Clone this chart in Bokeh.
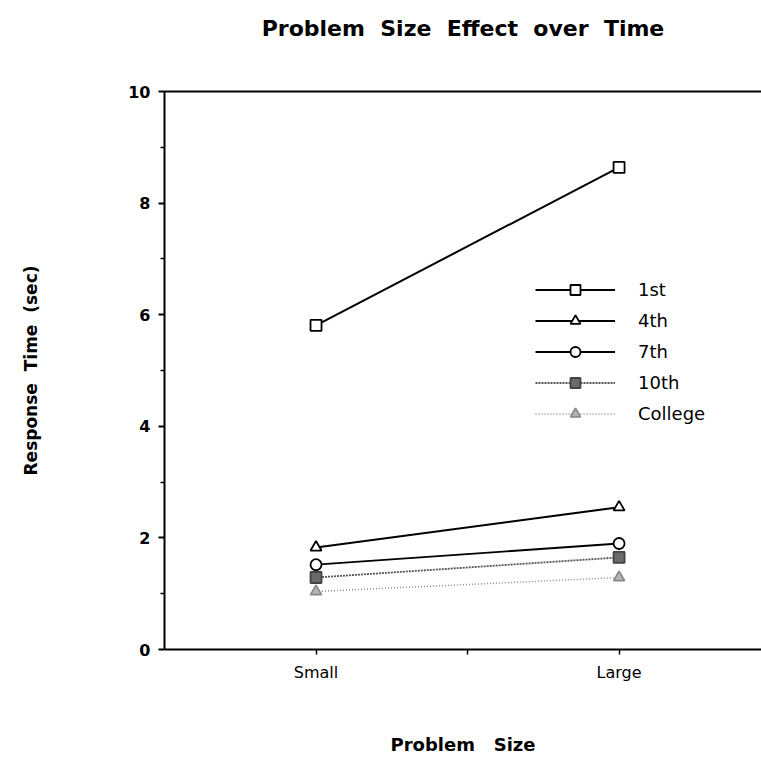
from bokeh.plotting import figure
from bokeh.models import (Range1d, FixedTicker, LinearAxis, Legend, LegendItem)
from bokeh.embed import file_html
from bokeh.resources import INLINE

# ---- data ----
sizes = ["Small", "Large"]
grades = ["1st", "4th", "7th", "10th", "College"]
small_rt = [5.81, 1.83, 1.52, 1.29, 1.04]
large_rt = [8.64, 2.55, 1.90, 1.65, 1.29]
y_major = [0, 2, 4, 6, 8, 10]
y_minor = [1, 3, 5, 7, 9]

# ---- styles ----
markers = ["square", "triangle", "circle", "square", "triangle"]
line_colors = ["black", "black", "black", "#555555", "#8a8a8a"]
line_dashes = ["solid", "solid", "solid", "2 1", "1 2"]
line_widths = [2, 2, 1.8, 1.8, 1.5]
fill_colors = ["white", "white", "white", "#6a6a6a", "#b5b5b5"]
mk_line = ["black", "black", "black", "#444444", "#8a8a8a"]

FONT = "DejaVu Sans"
NB = "\u00a0"

p = figure(width=761, height=757, output_backend="svg", toolbar_location=None,
           x_range=Range1d(0.5, 2.47), y_range=Range1d(0, 10),
           min_border_left=164, min_border_right=0, min_border_top=91,
           min_border_bottom=108)
p.outline_line_color = None
p.grid.visible = False
p.background_fill_color = "white"
p.border_fill_color = "white"

xpos = [i + 1 for i in range(len(sizes))]

items = []
for k, g in enumerate(grades):
    ys = [small_rt[k], large_rt[k]]
    lr = p.line(xpos, ys, line_color=line_colors[k], line_width=line_widths[k],
                line_dash=line_dashes[k])
    sr = p.scatter(xpos, ys, marker=markers[k], size=11,
                   fill_color=fill_colors[k], line_color=mk_line[k], line_width=1.8)
    items.append(LegendItem(label=g, renderers=[lr, sr]))

legend = Legend(items=items, location=(371, 223), orientation="vertical",
                glyph_width=80, glyph_height=25, label_height=25, spacing=6,
                label_standoff=23, padding=0, margin=0,
                border_line_color=None, background_fill_alpha=0,
                label_text_font=FONT, label_text_font_size="18px",
                label_text_color="black")
p.add_layout(legend, "center")

# y axis
ya = p.yaxis[0]
ya.ticker = FixedTicker(ticks=y_major, minor_ticks=y_minor)
ya.axis_line_width = 2
ya.axis_line_color = "black"
ya.major_tick_in = 0
ya.major_tick_out = 6
ya.minor_tick_in = 0
ya.minor_tick_out = 4
ya.major_tick_line_width = 2
ya.minor_tick_line_width = 1.5
ya.major_label_text_font = FONT
ya.major_label_text_font_style = "bold"
ya.major_label_text_font_size = "16px"
ya.major_label_text_color = "black"
ya.major_label_standoff = 8
ya.axis_label = "Response" + NB + NB + "Time" + NB + NB + "(sec)"
ya.axis_label_text_font = FONT
ya.axis_label_text_font_style = "bold"
ya.axis_label_text_font_size = "17px"
ya.axis_label_text_color = "black"
ya.axis_label_standoff = 84

# x axis
xa = p.xaxis[0]
xa.ticker = FixedTicker(ticks=[1, 1.5, 2, 2.5], minor_ticks=[])
xa.major_label_overrides = {1: sizes[0], 1.5: "", 2: sizes[1], 2.5: ""}
xa.axis_line_width = 2
xa.axis_line_color = "black"
xa.major_tick_in = 0
xa.major_tick_out = 5
xa.major_tick_line_width = 1.5
xa.major_label_text_font = FONT
xa.major_label_text_font_size = "16px"
xa.major_label_text_color = "black"
xa.major_label_standoff = 8
xa.axis_label = "Problem" + NB + NB + NB + "Size"
xa.axis_label_text_font = FONT
xa.axis_label_text_font_style = "bold"
xa.axis_label_text_font_size = "18px"
xa.axis_label_text_color = "black"
xa.axis_label_standoff = 49

# top axis used as frame line + title
top = LinearAxis(ticker=FixedTicker(ticks=[]), axis_line_width=2, axis_line_color="black",
                 major_tick_out=0, major_tick_in=0, minor_tick_out=0, minor_tick_in=0,
                 axis_label="Problem" + NB + NB + "Size" + NB + NB + "Effect" + NB + NB
                 + "over" + NB + NB + "Time",
                 axis_label_text_font=FONT, axis_label_text_font_style="bold",
                 axis_label_text_font_size="22px", axis_label_text_color="black",
                 axis_label_standoff=51)
p.add_layout(top, "above")

open("out.html", "w").write(file_html(p, INLINE))
